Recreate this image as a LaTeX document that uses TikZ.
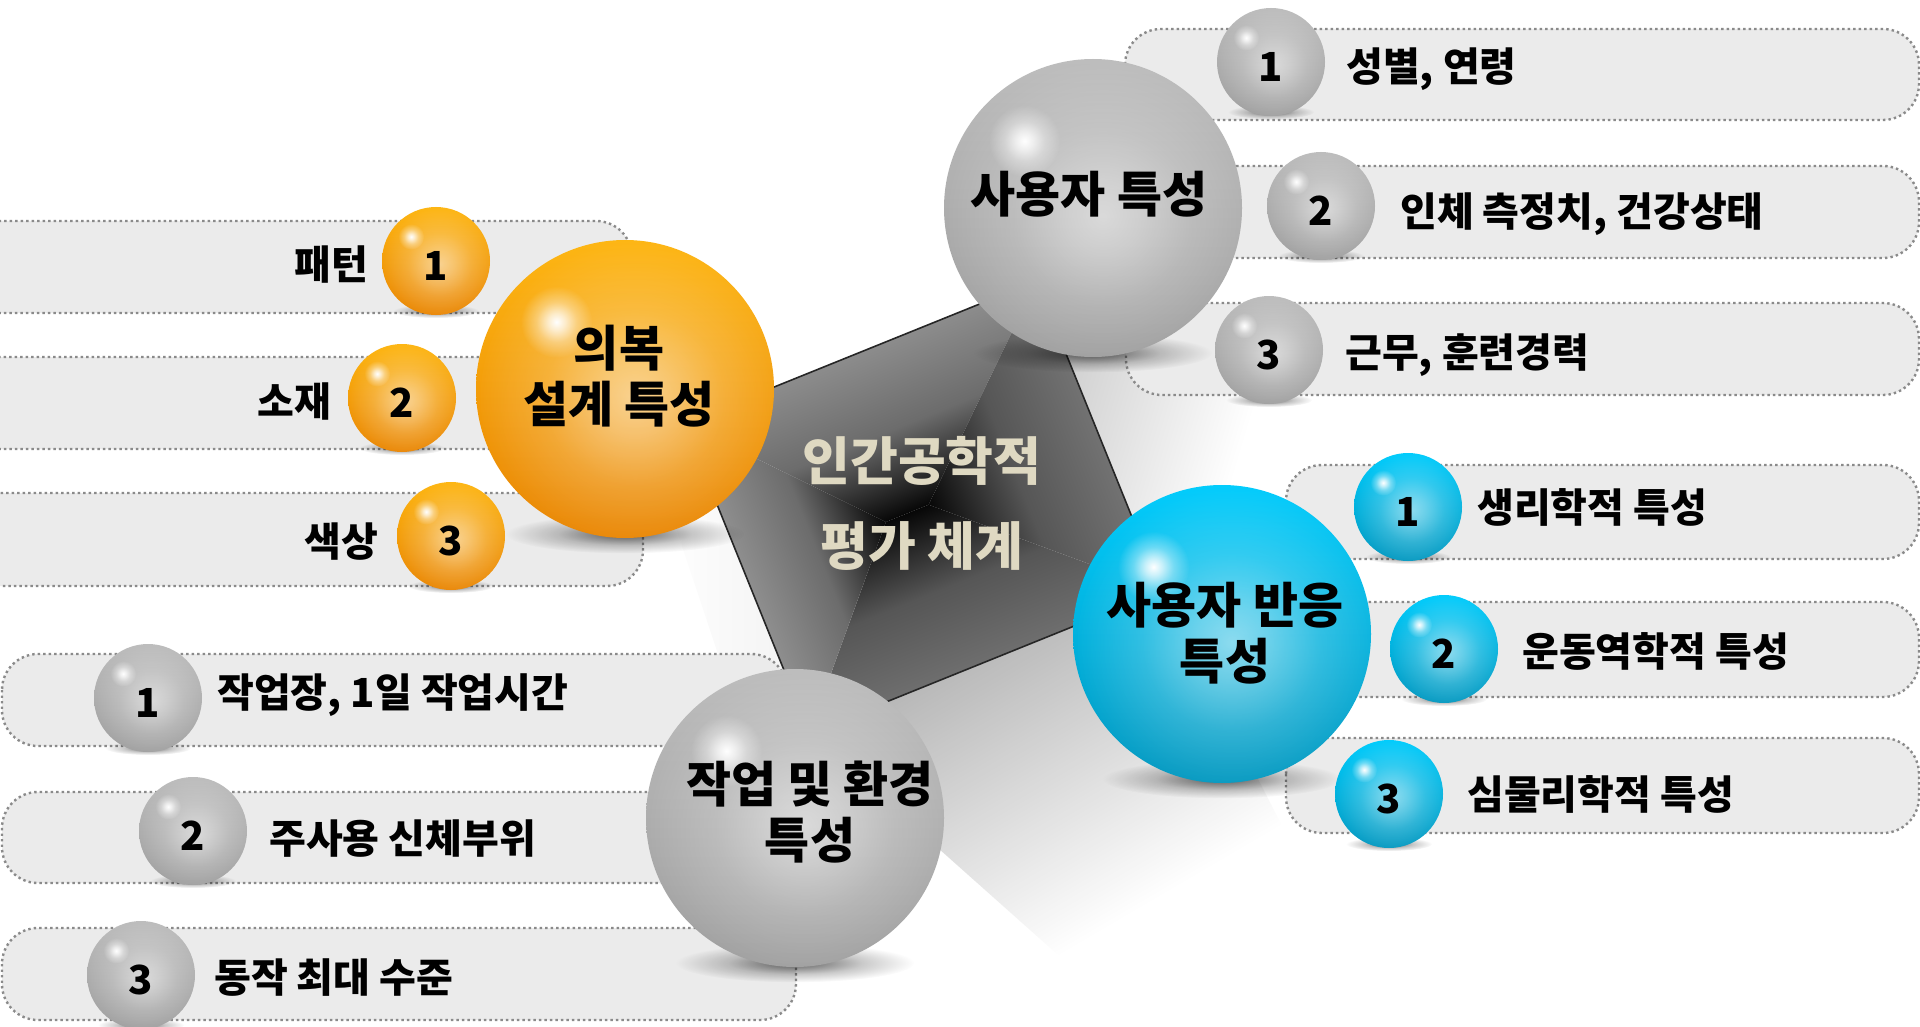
\documentclass[tikz,border=0pt]{standalone}
\usepackage{fontspec}
\setmainfont{Noto Sans CJK KR}
\usetikzlibrary{fadings}
\definecolor{otop}{HTML}{FDB614}
\definecolor{obot}{HTML}{E98400}
\definecolor{gtop}{HTML}{BDBDBD}
\definecolor{gbot}{HTML}{9E9E9E}
\definecolor{btop}{HTML}{03CCFC}
\definecolor{bbot}{HTML}{0097BF}
\definecolor{bandfill}{HTML}{EBEBEB}
\definecolor{banddot}{HTML}{8A8A8A}
\definecolor{beige}{HTML}{DFD9C2}
\definecolor{sqtop}{HTML}{8C8C8C}
\definecolor{sqleft}{HTML}{8E8E8E}
\definecolor{sqright}{HTML}{727272}
\definecolor{sqbot}{HTML}{6E6E6E}
\definecolor{sqmidA}{HTML}{6C6C6C}
\definecolor{sqmidB}{HTML}{565656}
\definecolor{sqcore}{HTML}{070707}
\pgfdeclareradialshading{glowshade}{\pgfpointorigin}{color(0bp)=(white); color(6bp)=(white!75!black); color(14bp)=(white!35!black); color(25bp)=(black); color(50bp)=(black)}
\pgfdeclarefading{softfade}{\pgfuseshading{glowshade}}
\pgfdeclareverticalshading{shadshade}{100bp}{color(0bp)=(black); color(35bp)=(black); color(75bp)=(white); color(100bp)=(white)}
\pgfdeclarefading{shadfade}{\pgfuseshading{shadshade}}
\tikzset{
  band/.style={fill=bandfill, draw=banddot, line width=2.4pt, dash pattern=on 2.4pt off 3.1pt, rounded corners=36pt},
  orb/.style={circle, inner sep=0pt, minimum size=#1, text=black,
    font=\fontsize{40}{40}\selectfont\bfseries, text height=39pt, text depth=0pt},
  glow/.style={path picture={
     \fill[white, path fading=softfade, fill opacity=0.55]
       ([shift={(0.08*#1,0.06*#1)}]path picture bounding box.center) circle[radius=1.05*#1];
     \fill[white, path fading=softfade, fill opacity=1]
       ([shift={(-0.46*#1,-0.45*#1)}]path picture bounding box.center) circle[radius=0.24*#1];
  }},
  oball/.style={orb=2*#1, top color=otop, bottom color=obot, glow=#1},
  gball/.style={orb=2*#1, top color=gtop, bottom color=gbot, glow=#1},
  bball/.style={orb=2*#1, top color=btop, bottom color=bbot, glow=#1},
  orbshadow/.style={black, path fading=softfade, fill opacity=0.6},
  bigtext/.style={font=\fontsize{49}{56}\selectfont\bfseries, align=center, text=black, inner sep=0pt},
  lbl/.style={font=\fontsize{40}{40}\selectfont\bfseries, text=black, inner sep=0pt, text height=31pt, text depth=0pt},
}
\newcommand\shadowfor[3]{\fill[orbshadow] (#1,#2+#3-4) ellipse[x radius=0.8*#3, y radius=0.13*#3];}
\begin{document}
\begin{tikzpicture}[x=1pt,y=-1pt]
\useasboundingbox (0,0) rectangle (1920,1027);
\fill[white] (0,0) rectangle (1920,1027);
\begin{scope}
\clip (0,0) rectangle (1920,1027);
% shadow of the central square
\fill[black!32, path fading=shadfade, fading angle=35]
  (809,733) -- (1162,591) -- (1310,880) -- (1120,1010) -- cycle;
\fill[black!20, path fading=shadfade, fading angle=70]
  (1035,282) -- (1162,591) -- (1290,560) -- (1250,360) -- cycle;
\shade[left color=white, right color=black!5]
  (650,450) -- (685,424) -- (809,733) -- (740,720) -- cycle;
% bands
\path[band] (-60,221) rectangle (632,313);
\path[band] (-60,357) rectangle (640,449);
\path[band] (-60,493) rectangle (643,586);
\path[band] (1125,29) rectangle (1919,120);
\path[band] (1150,166) rectangle (1919,258);
\path[band] (1126,303) rectangle (1919,395);
\path[band] (1286,465) rectangle (1919,559);
\path[band] (1260,602) rectangle (1919,697);
\path[band] (1286,738) rectangle (1919,833);
\path[band] (2,654) rectangle (787,746);
\path[band] (2,792) rectangle (800,883);
\path[band] (2,928) rectangle (796,1020);
\end{scope}
% central square
\begin{scope}[transform canvas={shift={(923,507)}, rotate=22}]
 \shade[top color=sqtop, bottom color=sqcore, middle color=sqmidA] (-190,-167) -- (190,-167) -- (6,0) -- (-40,0) -- cycle;
 \shade[top color=sqcore, bottom color=sqbot, middle color=sqmidB] (-190,167) -- (190,167) -- (6,0) -- (-40,0) -- cycle;
 \shade[left color=sqleft, right color=sqcore, middle color=sqmidA] (-190,-167) -- (-190,167) -- (-40,0) -- cycle;
 \shade[left color=sqcore, right color=sqright, middle color=sqmidB] (190,-167) -- (190,167) -- (6,0) -- cycle;
 \draw[line width=1.6pt, black!85] (-190,-167) rectangle (190,167);
\end{scope}
\node[font=\fontsize{52}{85}\selectfont\bfseries, text=beige, align=center, inner sep=0pt] (ctr) at (922,503) {인간공학적\\평가 체계};
% big spheres
\shadowfor{625}{389}{149}
\node[oball=149] (cloth) at (625,389) {};
\shadowfor{1093}{208}{149}
\node[gball=149] (user) at (1093,208) {};
\shadowfor{1222}{634}{149}
\node[bball=149] (resp) at (1222,634) {};
\shadowfor{795}{818}{149}
\node[gball=149] (work) at (795,818) {};
\node[bigtext] (clothT) at (619,376) {의복\\설계 특성};
\node[bigtext] (userT) at (1089,194) {사용자 특성};
\node[bigtext] (respT) at (1225,633) {사용자 반응\\특성};
\node[bigtext] (workT) at (810,812) {작업 및 환경\\특성};
% small spheres: clothing
\shadowfor{436}{261}{54}
\node[oball=54] (o1) at (436,261) {1};
\shadowfor{402}{398}{54}
\node[oball=54] (o2) at (402,398) {2};
\shadowfor{451}{536}{54}
\node[oball=54] (o3) at (451,536) {3};
\node[lbl, anchor=east] (o1t) at (368,264) {패턴};
\node[lbl, anchor=east] (o2t) at (331,401) {소재};
\node[lbl, anchor=east] (o3t) at (378,541) {색상};
% small spheres: user
\shadowfor{1271}{62}{54}
\node[gball=54] (u1) at (1271,62) {1};
\shadowfor{1321}{206}{54}
\node[gball=54] (u2) at (1321,206) {2};
\shadowfor{1269}{350}{54}
\node[gball=54] (u3) at (1269,350) {3};
\node[lbl, anchor=west] (u1t) at (1346,66) {성별, 연령};
\node[lbl, anchor=west] (u2t) at (1400,211) {인체 측정치, 건강상태};
\node[lbl, anchor=west] (u3t) at (1345,352) {근무, 훈련경력};
% small spheres: response
\shadowfor{1408}{507}{54}
\node[bball=54] (r1) at (1408,507) {1};
\shadowfor{1444}{649}{54}
\node[bball=54] (r2) at (1444,649) {2};
\shadowfor{1389}{794}{54}
\node[bball=54] (r3) at (1389,794) {3};
\node[lbl, anchor=west] (r1t) at (1477,507) {생리학적 특성};
\node[lbl, anchor=west] (r2t) at (1522,651) {운동역학적 특성};
\node[lbl, anchor=west] (r3t) at (1467,794) {심물리학적 특성};
% small spheres: work
\shadowfor{148}{698}{54}
\node[gball=54] (w1) at (148,698) {1};
\shadowfor{193}{831}{54}
\node[gball=54] (w2) at (193,831) {2};
\shadowfor{141}{975}{54}
\node[gball=54] (w3) at (141,975) {3};
\node[lbl, anchor=west] (w1t) at (217,692) {작업장, 1일 작업시간};
\node[lbl, anchor=west] (w2t) at (269,838) {주사용 신체부위};
\node[lbl, anchor=west] (w3t) at (214,977) {동작 최대 수준};
\end{tikzpicture}
\end{document}
